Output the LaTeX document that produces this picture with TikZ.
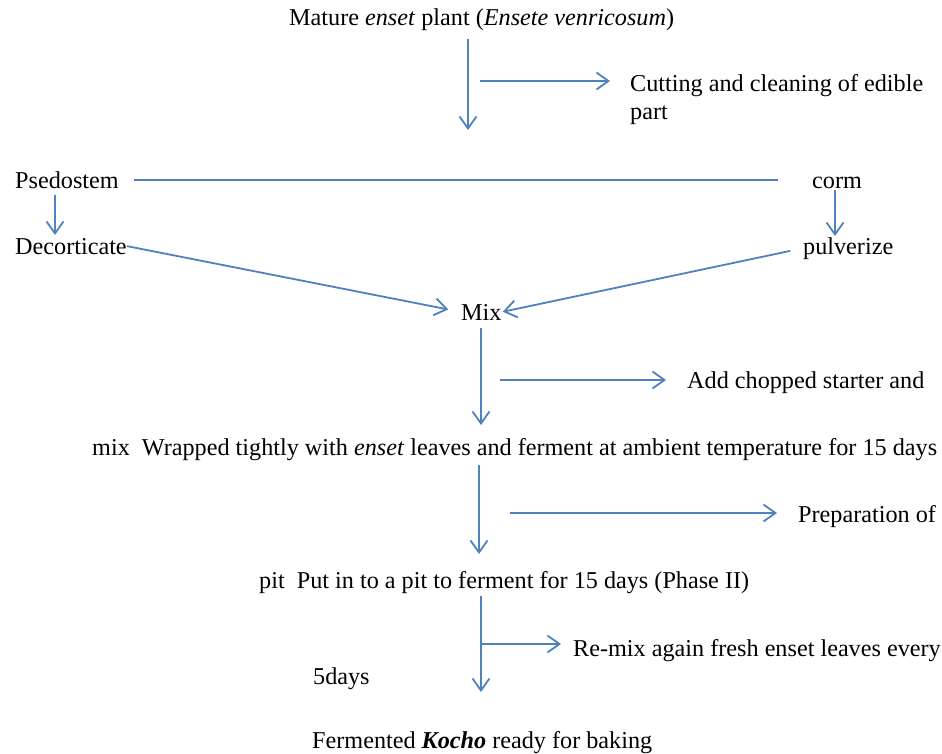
\documentclass[tikz,border=0pt]{standalone}
\usepackage{fontspec}
\setmainfont{Liberation Serif}
\usetikzlibrary{arrows.meta}

\definecolor{flowblue}{RGB}{79,129,189}

\begin{document}
\begin{tikzpicture}[x=1pt, y=-1pt, font=\fontsize{24.2}{28}\selectfont,
	txt/.style={inner sep=0pt, anchor=base west},
	flow/.style={draw=flowblue, line width=1.8pt, -{Straight Barb[length=12pt, width=17pt]}},
	link/.style={draw=flowblue, line width=1.8pt}]
	
	% --- Frame ---
	\useasboundingbox (0,0) rectangle (942,753);
	
	% --- Text ---
	\node[txt] (plant) at (289,25) {Mature \textit{enset} plant (\textit{Ensete venricosum})};
	\node[txt, align=left] (cutting) at (630,119) {Cutting and cleaning of edible\\part};
	\node[txt] (stem) at (15,188) {Psedostem};
	\node[txt] (corm) at (812,188) {corm};
	\node[txt] (decort) at (15,254) {Decorticate};
	\node[txt] (pulver) at (803,254) {pulverize};
	\node[txt] (mix) at (461,320) {Mix};
	\node[txt] (starter) at (687,388) {Add chopped starter and};
	\node[txt] (wrap) at (92,455) {mix\ \ Wrapped tightly with \textit{enset} leaves and ferment at ambient temperature for 15 days};
	\node[txt] (prep) at (798,522) {Preparation of};
	\node[txt] (pit) at (259,588) {pit\ \ Put in to a pit to ferment for 15 days (Phase II)};
	\node[txt] (remix) at (573,656) {Re-mix again fresh enset leaves every};
	\node[txt] (days) at (313,684) {5days};
	\node[txt] (kocho) at (312,748) {Fermented \textbf{\textit{Kocho}} ready for baking};
	
	% --- Free ends ---
	\coordinate (a1) at (468,130);
	\coordinate (c1) at (480,81);
	\coordinate (s1) at (55,235);
	\coordinate (r1) at (835,236);
	\coordinate (m1) at (481,425);
	\coordinate (c2) at (500,380);
	\coordinate (a2) at (479,554);
	\coordinate (c3) at (510,513);
	\coordinate (a3) at (481,692);
	\coordinate (c4) at (481,644);
	
	% --- Connectors ---
	\draw[flow, shorten <=9pt] (plant.south -| a1) -- (a1);
	\draw[flow, shorten >=20pt] (c1) -- (c1 -| cutting.west);
	\draw[link, shorten <=15pt, shorten >=34pt] (stem.east) -- (stem.east -| corm.west);
	\draw[flow, shorten <=7pt] (stem.south -| s1) -- (s1);
	\draw[flow, shorten <=2pt] (corm.south -| r1) -- (r1);
	\draw[flow, shorten >=13pt] (decort.east) -- (mix.west);
	\draw[flow, shorten <=13pt, shorten >=1pt] (pulver.west) -- (mix.east);
	\draw[flow, shorten <=8pt] (mix.south -| m1) -- (m1);
	\draw[flow, shorten >=21pt] (c2) -- (c2 -| starter.west);
	\draw[flow, shorten <=5pt] (wrap.south -| a2) -- (a2);
	\draw[flow, shorten >=21pt] (c3) -- (c3 -| prep.west);
	\draw[flow, shorten <=3pt] (pit.south -| a3) -- (a3);
	\draw[flow, shorten >=12pt] (c4) -- (c4 -| remix.west);
	
\end{tikzpicture}
\end{document}
